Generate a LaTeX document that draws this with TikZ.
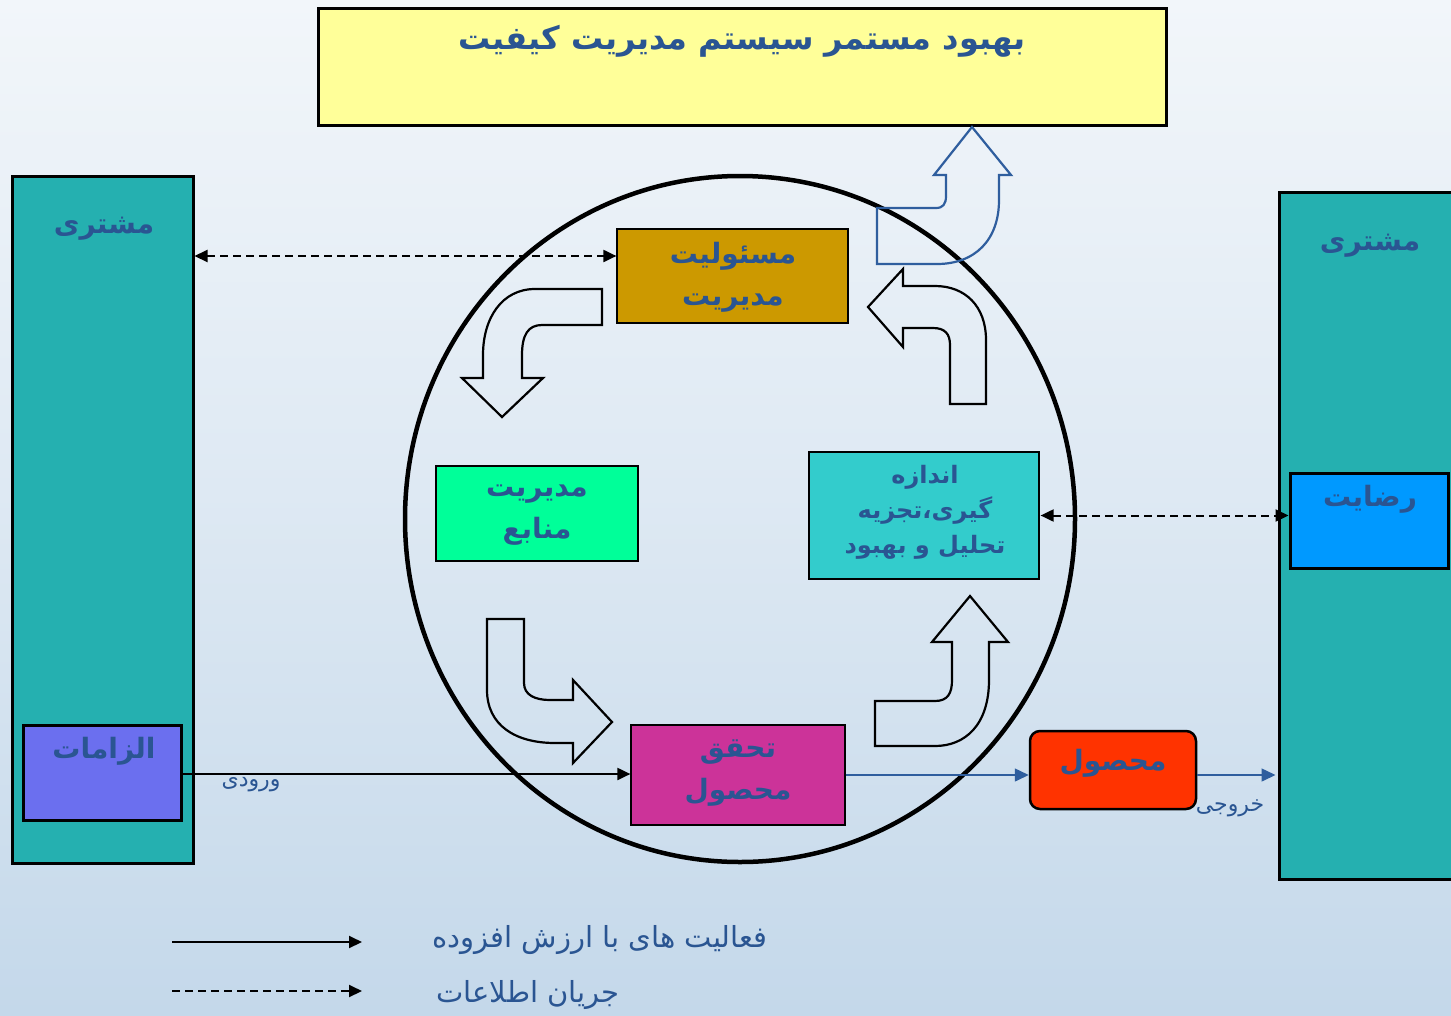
\documentclass[tikz,border=0pt]{standalone}
\usepackage{fontspec}
\usetikzlibrary{arrows.meta,shapes.geometric}
\TeXXeTstate=1
\newfontfamily\farsi[Script=Arabic]{DejaVu Sans}
\newcommand{\pr}[1]{\beginR #1\endR}
\definecolor{bgtop}{HTML}{F2F6FA}
\definecolor{bgbot}{HTML}{C4D8EA}
\definecolor{fablue}{HTML}{2A5592}
\definecolor{arrblue}{HTML}{2F5E9E}
\definecolor{titleyellow}{HTML}{FFFF99}
\definecolor{custteal}{HTML}{25B0B0}
\definecolor{reqviolet}{HTML}{6B6FEF}
\definecolor{satblue}{HTML}{0099FF}
\definecolor{mgmtgold}{HTML}{CC9900}
\definecolor{resgreen}{HTML}{00FF99}
\definecolor{meascyan}{HTML}{33CCCC}
\definecolor{realmag}{HTML}{CC3399}
\definecolor{prodred}{HTML}{FF3300}
\tikzset{
  bigbox/.style={draw=black, line width=3pt, rectangle, inner sep=0pt},
  procbox/.style={draw=black, line width=1.2pt, rectangle, inner sep=0pt},
  lbl/.style={text=fablue, font=\farsi\bfseries\fontsize{28}{42}\selectfont, align=center, inner sep=0pt},
  small/.style={text=fablue, font=\farsi\fontsize{22}{24}\selectfont, inner sep=0pt},
  legend/.style={text=fablue, font=\farsi\fontsize{29}{32}\selectfont, inner sep=0pt},
  info/.style={line width=2pt, dash pattern=on 8pt off 5pt, {Triangle[length=13pt,width=12pt]}-{Triangle[length=13pt,width=12pt]}},
  flow/.style={line width=2pt, -{Triangle[length=13pt,width=12pt]}},
  bflow/.style={line width=1.5pt, draw=arrblue, -{Triangle[length=14pt,width=13pt]}, arrblue},
  blockarrow/.style={line width=2.2pt, draw=black, line join=miter},
}
\begin{document}
\begin{tikzpicture}[x=1pt,y=-1pt]
\useasboundingbox (0,0) rectangle (1451,1015);
\shade[top color=bgtop, bottom color=bgbot, middle color=bgtop!55!bgbot] (0,0) rectangle (1451,1015);

% title
\node[bigbox, fill=titleyellow, minimum width=848pt, minimum height=117pt] (title) at (742,66.5) {};
\node[lbl, font=\farsi\bfseries\fontsize{32}{36}\selectfont] (titletext) at (742,41) {\pr{بهبود مستمر سیستم مدیریت کیفیت}};

% circle
\node[draw=black, line width=4.5pt, ellipse, minimum width=670pt, minimum height=686pt, inner sep=0pt] (circ) at (740,519) {};

% customers
\node[bigbox, fill=custteal, minimum width=181pt, minimum height=687pt] (lcust) at (102.5,519.5) {};
\node[lbl] (lcusttext) at (104,229) {\pr{مشتری}};
\node[bigbox, fill=custteal, minimum width=178pt, minimum height=687pt] (rcust) at (1368,535.5) {};
\node[lbl] (rcusttext) at (1370,246) {\pr{مشتری}};

\node[bigbox, fill=reqviolet, minimum width=158pt, minimum height=95pt] (req) at (102,772.5) {};
\node[lbl] (reqtext) at (104,751) {\pr{الزامات}};
\node[bigbox, fill=satblue, minimum width=158pt, minimum height=95pt] (sat) at (1369,520.5) {};
\node[lbl] (sattext) at (1370,499) {\pr{رضایت}};

% process boxes
\node[procbox, fill=mgmtgold, minimum width=231pt, minimum height=94pt] (mgmt) at (732.5,276) {};
\node[lbl] (mgmttext) at (733,277) {\pr{مسئولیت}\\\pr{مدیریت}};
\node[procbox, fill=resgreen, minimum width=202pt, minimum height=95pt] (res) at (537,513.5) {};
\node[lbl] (restext) at (537,515) {\pr{مدیریت}\\\pr{منابع}};
\node[procbox, fill=meascyan, minimum width=230pt, minimum height=127pt] (meas) at (924,515.5) {};
\node[lbl, font=\farsi\bfseries\fontsize{24}{35}\selectfont] (meastext) at (925,512) {\pr{اندازه}\\\pr{گیری،تجزیه}\\\pr{تحلیل و بهبود}};
\node[procbox, fill=realmag, minimum width=214pt, minimum height=100pt] (real) at (738,775) {};
\node[lbl] (realtext) at (738,773) {\pr{تحقق}\\\pr{محصول}};
\node[draw=black, line width=2.5pt, rounded corners=10pt, fill=prodred, minimum width=166pt, minimum height=78pt, inner sep=0pt] (prod) at (1113,770) {};
\node[lbl] (prodtext) at (1113,763) {\pr{محصول}};

% block arrows
\draw[blockarrow, draw=arrblue] (877,208) -- (936,208) .. controls (943,208) and (946,204) .. (946,196) -- (946,175) -- (934,175) -- (972,127) -- (1011,175) -- (999,175) -- (999,200) .. controls (999,240) and (975,264) .. (937,264) -- (877,264) -- cycle;
\draw[blockarrow] (602,289) -- (535,289) .. controls (502,289) and (483,318) .. (483,355) -- (483,378) -- (462,378) -- (502,417) -- (543,378) -- (522,378) -- (522,355) .. controls (522,335) and (528,325) .. (542,325) -- (602,325) -- cycle;
\draw[blockarrow] (950,404) -- (950,345) .. controls (950,334) and (945,328) .. (933,328) -- (903,328) -- (903,347) -- (868,307) -- (903,269) -- (903,286) -- (935,286) .. controls (965,286) and (986,306) .. (986,340) -- (986,404) -- cycle;
\draw[blockarrow] (487,619) -- (524,619) -- (524,683) .. controls (524,695) and (535,700) .. (550,700) -- (573,700) -- (573,680) -- (612,722) -- (573,763) -- (573,743) -- (555,743) .. controls (515,743) and (487,725) .. (487,690) -- cycle;
\draw[blockarrow] (875,701) -- (935,701) .. controls (948,701) and (952,693) .. (952,680) -- (952,642) -- (932,642) -- (970,596) -- (1008,642) -- (989,642) -- (989,680) .. controls (989,725) and (965,746) .. (935,746) -- (875,746) -- cycle;

% connectors
\draw[info] ([yshift=20pt]lcust.east |- mgmt.west) -- ([yshift=20pt]mgmt.west);
\draw[info] ([xshift=1pt]meas.east) -- (meas.east -| sat.west);
\draw[flow] ([yshift=-1.5pt]req.east) -- ([yshift=-1.5pt]req.east -| real.west);
\node[small] (intext) at (251,785) {\pr{ورودی}};
\draw[bflow] (real.east) -- (real.east -| prod.west);
\draw[bflow] (prod.east |- real.east) -- ([xshift=-2pt]rcust.west |- real.east);
\node[small] (outtext) at (1230,808) {\pr{خروجی}};

% legend
\coordinate (la1) at (172,942);
\coordinate (lb1) at (362,942);
\coordinate (la2) at (172,991);
\coordinate (lb2) at (362,991);
\draw[flow] (la1) -- (lb1);
\draw[line width=2pt, dash pattern=on 8pt off 5pt, -{Triangle[length=13pt,width=12pt]}] (la2) -- (lb2);
\node[legend] (leg1) at (600,940) {\pr{فعالیت های با ارزش افزوده}};
\node[legend] (leg2) at (528,995) {\pr{جریان اطلاعات}};
\end{tikzpicture}
\end{document}
